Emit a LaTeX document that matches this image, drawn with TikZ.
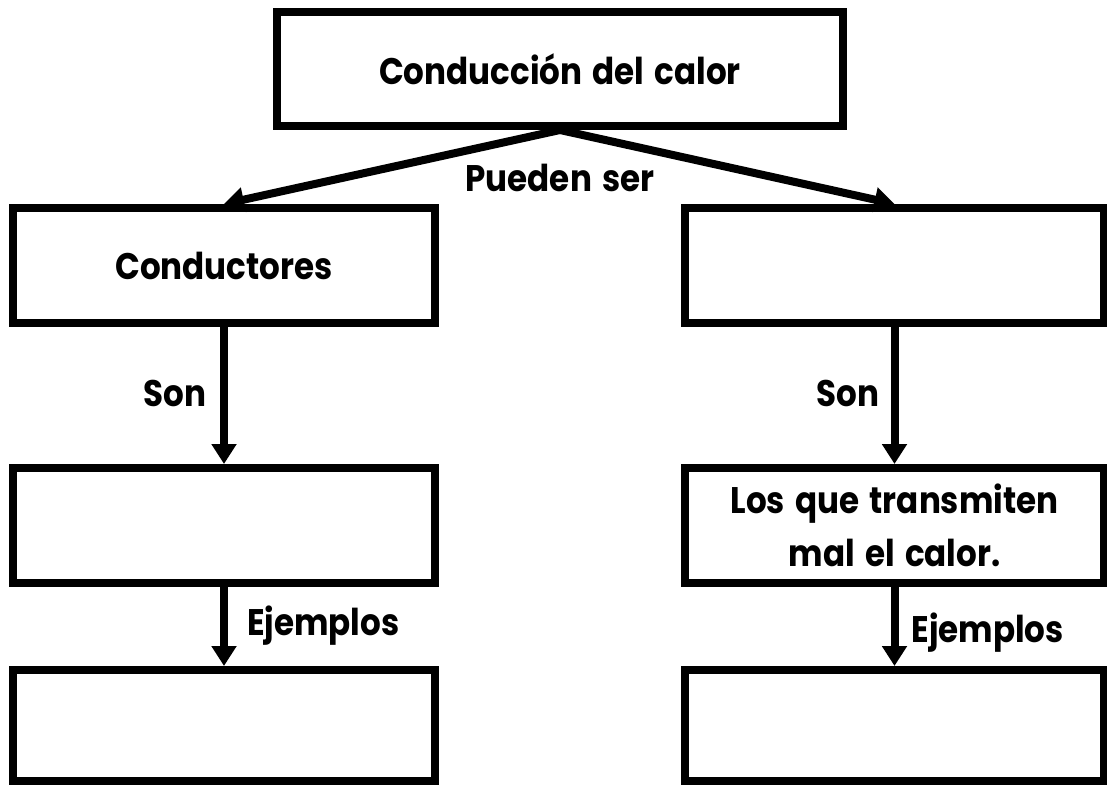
\documentclass[tikz,border=0pt]{standalone}
\usepackage{fontspec}
\setmainfont{Poppins}[FakeStretch=0.88, WordSpace=1.5]
\usetikzlibrary{arrows.meta,calc}
\begin{document}
\begin{tikzpicture}[x=1pt,y=-1pt,
  box/.style={draw, line width=8pt, inner sep=0pt, align=center,
    font=\bfseries\fontsize{37}{53}\selectfont},
  lbox/.style={box, minimum width=422pt, minimum height=115pt},
  rbox/.style={box, minimum width=419pt, minimum height=115pt},
  arr/.style={line width=8pt, -{Triangle[length=20pt,width=24pt]}},
  lbl/.style={inner sep=0pt, font=\bfseries\fontsize{37}{44}\selectfont}]
\useasboundingbox (0,0) rectangle (1107,784);
\node[box, minimum width=566pt, minimum height=114pt] (top) at (560,69) {Conducción del calor};
\node[lbox] (lm) at (224,265.5) {Conductores};
\node[rbox] (rm) at (894.5,265.5) {};
\node[lbox] (lt) at (224,525.5) {};
\node[rbox] (rt) at (894.5,525.5) {Los que transmiten\\mal el calor.};
\node[lbox, minimum height=111pt] (lb) at (224,725.5) {};
\node[rbox, minimum height=111pt] (rb) at (894.5,725.5) {};
\node[lbl, anchor=base] (pueden) at (560,191) {Pueden ser};
\draw[arr] (top.south) -- (lm.north);
\draw[arr] (top.south) -- (rm.north);
\draw[arr] (lm.south) -- node[lbl, pos=0.485, anchor=east, xshift=-14pt] (son1) {Son} (lt.north);
\draw[arr] (rm.south) -- node[lbl, pos=0.485, anchor=east, xshift=-11pt] (son2) {Son} (rt.north);
\draw[arr] (lt.south) -- node[lbl, pos=0.61, anchor=base west, xshift=19pt] (ej1) {Ejemplos} (lb.north);
\draw[arr] (rt.south) -- node[lbl, pos=0.70, anchor=base west, xshift=13pt] (ej2) {Ejemplos} (rb.north);
\end{tikzpicture}
\end{document}
